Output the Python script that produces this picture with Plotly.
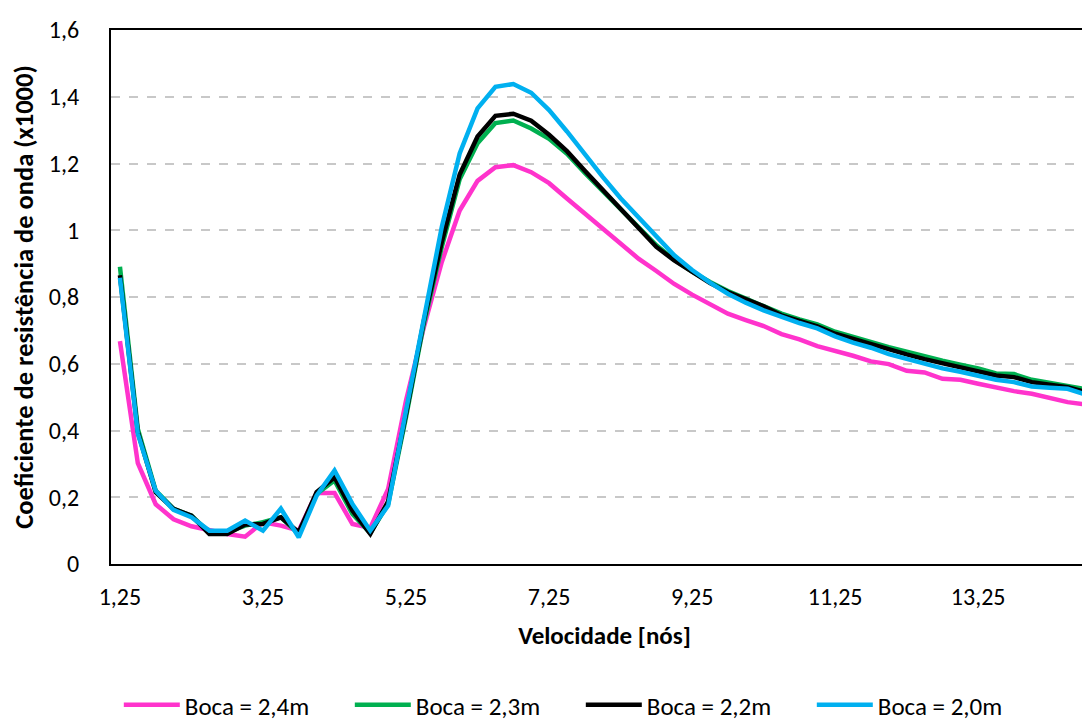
import plotly.graph_objects as go

velocidade = [1.25, 1.50, 1.75, 2.00, 2.25, 2.50, 2.75, 3.00, 3.25, 3.50, 3.75, 4.00, 4.25, 4.50,
              4.75, 5.00, 5.25, 5.50, 5.75, 6.00, 6.25, 6.50, 6.75, 7.00, 7.25, 7.50, 7.75, 8.00,
              8.25, 8.50, 8.75, 9.00, 9.25, 9.50, 9.75, 10.00, 10.25, 10.50, 10.75, 11.00, 11.25,
              11.50, 11.75, 12.00, 12.25, 12.50, 12.75, 13.00, 13.25, 13.50, 13.75, 14.00, 14.25,
              14.50, 14.75, 15.00]

boca_24 = [0.668, 0.302, 0.179, 0.134, 0.113, 0.100, 0.090, 0.082, 0.125, 0.115, 0.100, 0.213, 0.213, 0.120, 0.108,
           0.225, 0.490, 0.710, 0.905, 1.059, 1.148, 1.189, 1.195, 1.174, 1.141, 1.095, 1.050, 1.005, 0.960, 0.915,
           0.878, 0.839, 0.807, 0.779, 0.750, 0.731, 0.713, 0.689, 0.673, 0.653, 0.639, 0.624, 0.607, 0.599, 0.579,
           0.574, 0.555, 0.552, 0.540, 0.528, 0.518, 0.510, 0.498, 0.485, 0.478, 0.478]

boca_23 = [0.891, 0.405, 0.220, 0.165, 0.145, 0.095, 0.095, 0.115, 0.125, 0.140, 0.090, 0.210, 0.250, 0.150, 0.093,
           0.180, 0.440, 0.720, 0.950, 1.153, 1.261, 1.321, 1.329, 1.305, 1.274, 1.229, 1.172, 1.118, 1.064, 1.007,
           0.955, 0.912, 0.876, 0.845, 0.818, 0.795, 0.774, 0.750, 0.733, 0.718, 0.696, 0.680, 0.665, 0.650, 0.636,
           0.621, 0.609, 0.597, 0.586, 0.571, 0.569, 0.552, 0.542, 0.535, 0.522, 0.515]

boca_22 = [0.865, 0.395, 0.215, 0.165, 0.145, 0.090, 0.090, 0.118, 0.120, 0.140, 0.095, 0.215, 0.260, 0.160, 0.090,
           0.188, 0.450, 0.730, 0.965, 1.167, 1.281, 1.343, 1.349, 1.328, 1.286, 1.237, 1.178, 1.120, 1.064, 1.005,
           0.950, 0.910, 0.874, 0.842, 0.815, 0.792, 0.772, 0.745, 0.727, 0.712, 0.690, 0.674, 0.659, 0.643, 0.628,
           0.614, 0.601, 0.590, 0.578, 0.565, 0.560, 0.545, 0.537, 0.530, 0.515, 0.508]

boca_20 = [0.858, 0.390, 0.219, 0.162, 0.140, 0.100, 0.100, 0.130, 0.100, 0.166, 0.080, 0.205, 0.280, 0.180, 0.100,
           0.175, 0.460, 0.740, 1.010, 1.230, 1.365, 1.430, 1.438, 1.412, 1.360, 1.296, 1.227, 1.160, 1.096, 1.039,
           0.980, 0.925, 0.881, 0.843, 0.810, 0.783, 0.760, 0.740, 0.722, 0.706, 0.682, 0.663, 0.648, 0.629, 0.614,
           0.601, 0.586, 0.576, 0.564, 0.552, 0.545, 0.532, 0.528, 0.525, 0.508, 0.500]

series_names = ["Boca = 2,4m", "Boca = 2,3m", "Boca = 2,2m", "Boca = 2,0m"]
series_colors = ["#FF33CC", "#00B050", "#000000", "#00B0F0"]

x_ticks = [1.25, 3.25, 5.25, 7.25, 9.25, 11.25, 13.25]
x_ticklabels = ["1,25", "3,25", "5,25", "7,25", "9,25", "11,25", "13,25"]
y_ticks = [0, 0.2, 0.4, 0.6, 0.8, 1.0, 1.2, 1.4, 1.6]
y_ticklabels = ["0", "0,2", "0,4", "0,6", "0,8", "1", "1,2", "1,4", "1,6"]

FONT = "Carlito, Calibri, Lato, 'Liberation Sans', sans-serif"

fig = go.Figure()
for name, color, vals in zip(series_names, series_colors, [boca_24, boca_23, boca_22, boca_20]):
    fig.add_trace(go.Scatter(
        x=velocidade, y=vals, mode="lines", name=name,
        line=dict(color=color, width=4.5),
    ))

fig.update_layout(
    width=1090, height=720,
    margin=dict(l=103, r=0, t=22, b=158),
    paper_bgcolor="white", plot_bgcolor="white",
    font=dict(family=FONT, size=24, color="#000000"),
    showlegend=True,
    legend=dict(
        orientation="h", x=0.476, xanchor="center", y=-0.265, yanchor="middle",
        font=dict(family=FONT, size=25, color="#000000"),
        itemwidth=56, entrywidth=160, traceorder="normal",
    ),
    xaxis=dict(
        range=[1.125, 14.925],
        tickmode="array", tickvals=x_ticks, ticktext=x_ticklabels,
        showgrid=False, zeroline=False,
        showline=True, linecolor="#000000", linewidth=2, mirror=True,
        ticks="", ticklabelstandoff=10,
        tickfont=dict(family=FONT, size=24),
        title=dict(text="<b>Velocidade [nós]</b>", font=dict(family=FONT, size=25), standoff=17),
    ),
    yaxis=dict(
        range=[0, 1.6],
        tickmode="array", tickvals=y_ticks, ticktext=y_ticklabels,
        showgrid=True, gridcolor="#C8C8C8", griddash="dash", gridwidth=1.5,
        zeroline=False,
        showline=True, linecolor="#000000", linewidth=2,
        ticks="", ticklabelstandoff=25,
        tickfont=dict(family=FONT, size=24),
        title=dict(text="<b>Coeficiente de resistência de onda (x1000)</b>",
                   font=dict(family=FONT, size=26.5), standoff=13),
    ),
)

fig.write_html("out.html")
